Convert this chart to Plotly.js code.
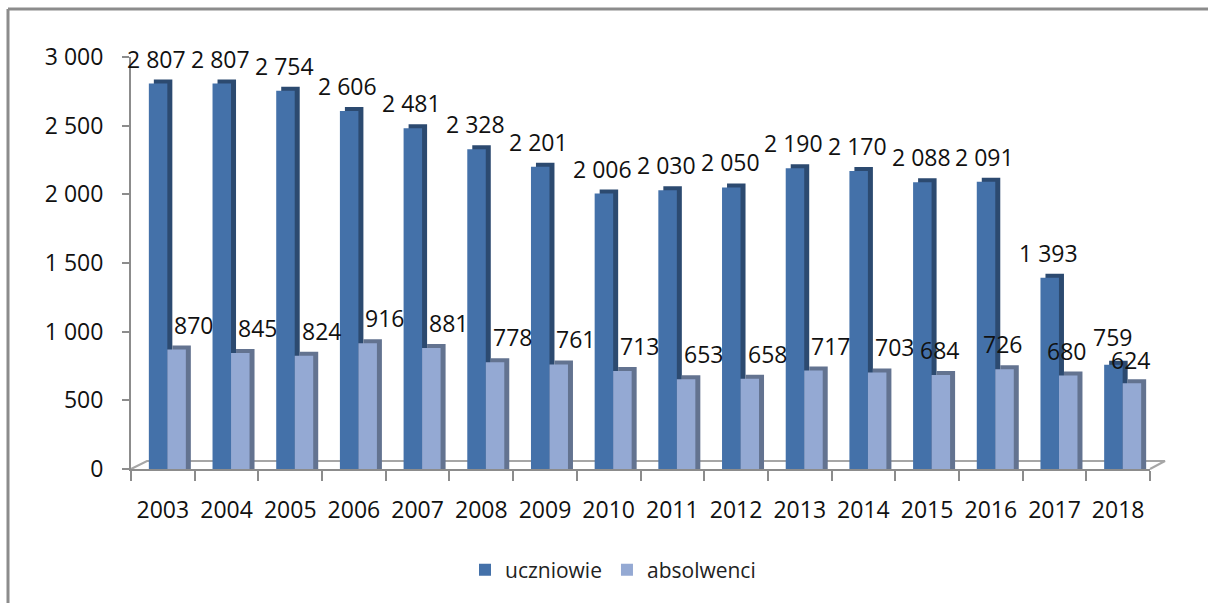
<!DOCTYPE html>
<html>
<head>
<meta charset="utf-8">
<script src="https://cdn.plot.ly/plotly-3.0.1.min.js"></script>
<style>html,body{margin:0;padding:0;background:#fff;}#chart{width:1208px;height:603px;}</style>
</head>
<body>
<div id="chart"></div>
<script>
const years = ['2003','2004','2005','2006','2007','2008','2009','2010','2011','2012','2013','2014','2015','2016','2017','2018'];
const uczniowie = [2807,2807,2754,2606,2481,2328,2201,2006,2030,2050,2190,2170,2088,2091,1393,759];
const absolwenci = [870,845,824,916,881,778,761,713,653,658,717,703,684,726,680,624];
const seriesNames = ['uczniowie','absolwenci'];

const W = 1208, H = 603;
const mL = 131, mR = 58, mT = 57, mB = 134;
const plotW = W - mL - mR, plotH = H - mT - mB;
const catPx = plotW / years.length;
const px = p => p / catPx;
const unitsPerPx = 3000 / plotH;
const depthX = 5, depthY = 4;

const fmt = v => String(v).replace(/\B(?=(\d{3})+(?!\d))/g, ' ');

const uOff = px(-14), aOff = px(4.5), bw = px(18.5);
const colors = {uFront:'#4471A9', uSide:'#2C4A70', aFront:'#94A9D3', aSide:'#637390'};

const traces = [
  {type:'bar', x:years, y:uczniowie.map(v=>v+depthY*unitsPerPx), offset:uOff+px(depthX), width:bw,
   marker:{color:colors.uSide}, showlegend:false, hoverinfo:'skip'},
  {type:'bar', name:seriesNames[0], x:years, y:uczniowie, offset:uOff, width:bw,
   marker:{color:colors.uFront}},
  {type:'bar', x:years, y:absolwenci.map(v=>v+depthY*unitsPerPx), offset:aOff+px(depthX), width:bw,
   marker:{color:colors.aSide}, showlegend:false, hoverinfo:'skip'},
  {type:'bar', name:seriesNames[1], x:years, y:absolwenci, offset:aOff, width:bw,
   marker:{color:colors.aFront}}
];

const annotations = [];
years.forEach((yr,i)=>{
  annotations.push({x:i, y:uczniowie[i], xref:'x', yref:'y', text:fmt(uczniowie[i]), showarrow:false,
    xshift:-6, yshift:(i===years.length-1?28:25), font:{family:'Open Sans, sans-serif', size:23, color:'#111'}});
  annotations.push({x:i, y:absolwenci[i], xref:'x', yref:'y', text:fmt(absolwenci[i]), showarrow:false,
    xshift:(i<12?31:12), yshift:(i===years.length-1?23:25), font:{family:'Open Sans, sans-serif', size:23, color:'#111'}});
});

const fx = p => (p - mL) / plotW;
const fy = p => (H - mB - p) / plotH;
const gray = '#8c8c8c';
const shapes = [
  {type:'path', xref:'paper', yref:'paper', layer:'below',
   path:`M 0 0 L ${16/plotW} ${8/plotH} L ${1+15/plotW} ${8/plotH} L 1 0`,
   line:{color:'#a6a6a6', width:2}},
  {type:'line', xref:'paper', yref:'paper', x0:fx(8), x1:fx(W+5), y0:fy(9), y1:fy(9), line:{color:gray, width:3}},
  {type:'line', xref:'paper', yref:'paper', x0:fx(8), x1:fx(8), y0:fy(9), y1:fy(H+5), line:{color:gray, width:3}}
];

const tickFont = {family:'Open Sans, sans-serif', size:23, color:'#111'};
const layout = {
  width:W, height:H,
  margin:{l:mL, r:mR, t:mT, b:mB, pad:0},
  paper_bgcolor:'#fff', plot_bgcolor:'rgba(0,0,0,0)',
  separators:', ',
  barmode:'overlay',
  showlegend:true,
  legend:{orientation:'h', x:fx(613), xanchor:'center', y:fy(570), yanchor:'middle',
    font:{family:'Open Sans, sans-serif', size:21, color:'#222'}, itemwidth:30, traceorder:'normal'},
  xaxis:{type:'category', range:[-0.5, years.length-0.5], tickson:'boundaries', ticks:'outside', ticklen:10,
    tickcolor:gray, tickwidth:2, showline:true, linecolor:gray, linewidth:2, showgrid:false, zeroline:false,
    tickfont:tickFont, ticklabelstandoff:19, fixedrange:true},
  yaxis:{range:[0,3000], dtick:500, tick0:0, tickformat:',d', ticks:'outside', ticklen:7, tickcolor:gray, tickwidth:2,
    showline:true, linecolor:gray, linewidth:2, showgrid:false, zeroline:false, tickfont:tickFont,
    ticklabelstandoff:14, fixedrange:true},
  annotations:annotations,
  shapes:shapes
};

Plotly.newPlot('chart', traces, layout, {staticPlot:true, displayModeBar:false});
</script>
</body>
</html>
